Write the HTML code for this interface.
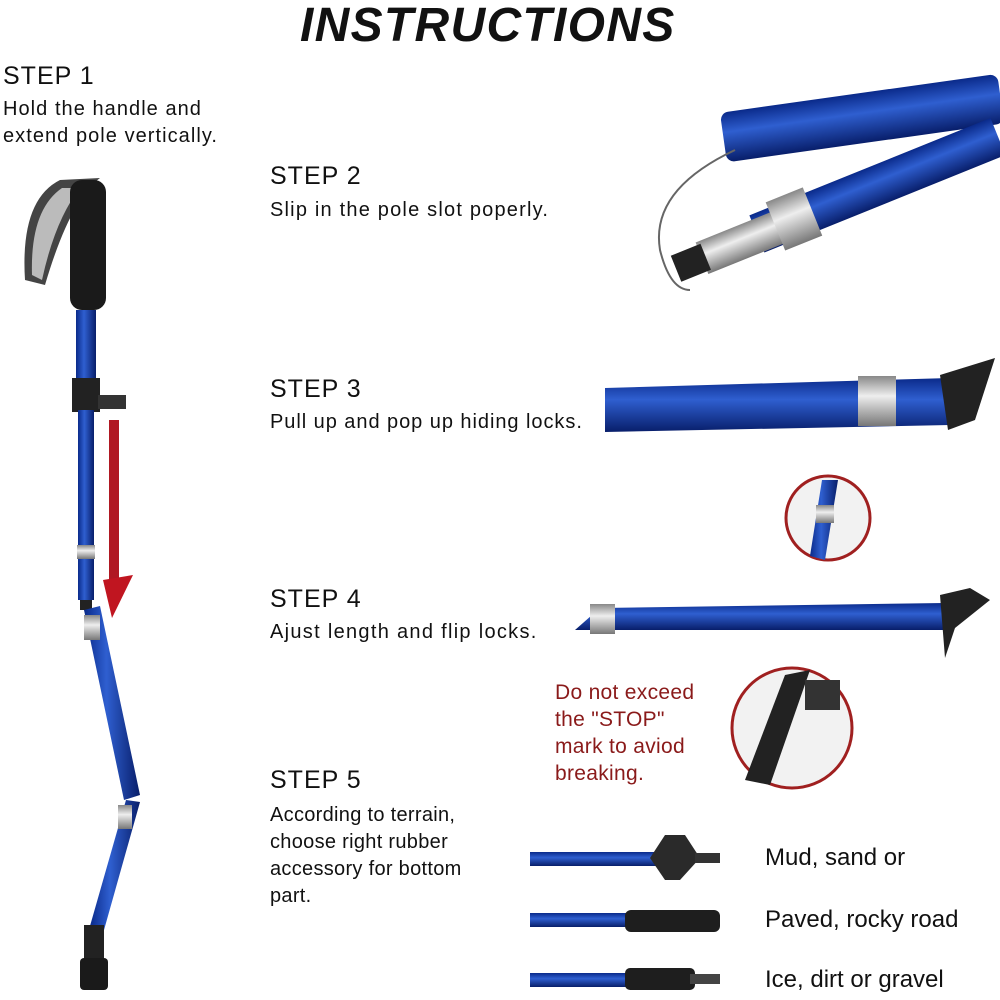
<!DOCTYPE html>
<html><head><meta charset="utf-8"><style>
html,body{margin:0;padding:0;background:#fff;}
body{width:1000px;height:1000px;position:relative;overflow:hidden;font-family:"Liberation Sans",sans-serif;color:#111;}
.t{position:absolute;white-space:nowrap;}
.step{font-size:25px;letter-spacing:1px;}
.d{font-size:20px;line-height:27px;letter-spacing:0.3px;}
svg{position:absolute;left:0;top:0;}
</style></head><body>
<svg width="1000" height="1000" viewBox="0 0 1000 1000">
<defs>
<linearGradient id="bl" x1="0" y1="0" x2="0" y2="1">
<stop offset="0" stop-color="#0a2a8a"/><stop offset="0.4" stop-color="#2f5fd0"/><stop offset="1" stop-color="#081e6a"/></linearGradient>
<linearGradient id="blv" x1="0" y1="0" x2="1" y2="0">
<stop offset="0" stop-color="#0a2a8a"/><stop offset="0.4" stop-color="#2f5fd0"/><stop offset="1" stop-color="#081e6a"/></linearGradient>
<linearGradient id="sv" x1="0" y1="0" x2="0" y2="1">
<stop offset="0" stop-color="#888"/><stop offset="0.4" stop-color="#eee"/><stop offset="1" stop-color="#777"/></linearGradient>
</defs>
<path d="M25,280 Q20,200 60,180 L100,178 Q70,200 45,285 Z" fill="#444"/>
<path d="M32,275 Q30,210 62,188 L80,188 Q55,220 42,280 Z" fill="#bbb"/>
<rect x="70" y="180" width="36" height="130" rx="12" fill="#1a1a1a"/>
<rect x="76" y="310" width="20" height="70" fill="url(#blv)"/>
<rect x="72" y="378" width="28" height="34" fill="#222"/>
<rect x="98" y="395" width="28" height="14" fill="#333"/>
<rect x="78" y="410" width="16" height="190" fill="url(#blv)"/>
<rect x="77" y="545" width="18" height="14" fill="url(#sv)"/>
<rect x="80" y="600" width="12" height="10" fill="#222"/>
<polygon points="84,610 100,606 140,795 124,800" fill="url(#blv)"/>
<rect x="84" y="615" width="16" height="25" fill="url(#sv)"/>
<polygon points="126,800 140,802 104,930 90,926" fill="url(#blv)"/>
<rect x="118" y="805" width="14" height="24" fill="url(#sv)"/>
<rect x="84" y="925" width="20" height="35" fill="#222"/>
<rect x="80" y="958" width="28" height="32" rx="4" fill="#1a1a1a"/>
<rect x="109" y="420" width="10" height="160" fill="#b01822"/>
<polygon points="103,580 133,575 112,618" fill="#c01520"/>
<g transform="rotate(-8 850 140)">
<rect x="725" y="95" width="280" height="50" rx="8" fill="url(#bl)"/>
</g>
<g transform="rotate(-22 820 230)">
<rect x="760" y="190" width="260" height="40" fill="url(#bl)"/>
<rect x="700" y="195" width="90" height="34" fill="url(#sv)"/>
<rect x="780" y="184" width="40" height="52" fill="url(#sv)"/>
<rect x="672" y="198" width="32" height="28" fill="#222"/>
</g>
<path d="M735,150 Q650,190 660,250 Q670,290 690,290" fill="none" stroke="#666" stroke-width="2"/>
<polygon points="605,388 950,378 950,425 605,432" fill="url(#bl)"/>
<rect x="858" y="376" width="38" height="50" fill="url(#sv)"/>
<polygon points="940,375 995,358 975,420 948,430" fill="#222"/>
<circle cx="828" cy="518" r="42" fill="#f2f2f2" stroke="#a02020" stroke-width="3"/>
<polygon points="822,480 838,480 825,560 810,556" fill="url(#blv)"/>
<rect x="816" y="505" width="18" height="18" fill="url(#sv)"/>
<polygon points="575,630 600,608 945,603 945,630" fill="url(#bl)"/>
<rect x="590" y="604" width="25" height="30" fill="url(#sv)"/>
<polygon points="940,595 970,588 990,600 955,628 945,658" fill="#222"/>
<circle cx="792" cy="728" r="60" fill="#f2f2f2" stroke="#a02020" stroke-width="3"/>
<polygon points="785,675 810,670 770,785 745,780" fill="#222"/>
<rect x="805" y="680" width="35" height="30" fill="#333"/>
<rect x="530" y="852" width="130" height="14" fill="url(#bl)"/>
<polygon points="650,858 665,835 685,835 700,858 680,880 665,880" fill="#2a2a2a"/>
<rect x="695" y="853" width="25" height="10" fill="#333"/>
<rect x="530" y="913" width="100" height="14" fill="url(#bl)"/>
<rect x="625" y="910" width="95" height="22" rx="6" fill="#1e1e1e"/>
<rect x="530" y="973" width="100" height="14" fill="url(#bl)"/>
<rect x="625" y="968" width="70" height="22" rx="5" fill="#1e1e1e"/>
<rect x="690" y="974" width="30" height="10" fill="#444"/>
</svg>
<div class="t" style="left:300px;top:-2px;font-size:48px;font-weight:bold;font-style:italic;letter-spacing:1.3px;">INSTRUCTIONS</div>
<div class="t step" style="left:3px;top:62px;">STEP 1</div>
<div class="t d" style="left:3px;top:96px;letter-spacing:1.05px;">Hold the handle and<br>extend pole vertically.</div>
<div class="t step" style="left:270px;top:162px;">STEP 2</div>
<div class="t d" style="left:270px;top:197px;letter-spacing:1.2px;">Slip in the pole slot poperly.</div>
<div class="t step" style="left:270px;top:375px;">STEP 3</div>
<div class="t d" style="left:270px;top:409px;letter-spacing:0.95px;">Pull up and pop up hiding locks.</div>
<div class="t step" style="left:270px;top:585px;">STEP 4</div>
<div class="t d" style="left:270px;top:619px;letter-spacing:1.3px;">Ajust length and flip locks.</div>
<div class="t d" style="left:555px;top:679px;color:#8a1a1a;font-size:21px;">Do not exceed<br>the "STOP"<br>mark to aviod<br>breaking.</div>
<div class="t step" style="left:270px;top:766px;">STEP 5</div>
<div class="t d" style="left:270px;top:802px;">According to terrain,<br>choose right rubber<br>accessory for bottom<br>part.</div>
<div class="t" style="left:765px;top:844px;font-size:24px;">Mud, sand or</div>
<div class="t" style="left:765px;top:906px;font-size:24px;">Paved, rocky road</div>
<div class="t" style="left:765px;top:966px;font-size:24px;">Ice, dirt or gravel</div>
</body></html>
